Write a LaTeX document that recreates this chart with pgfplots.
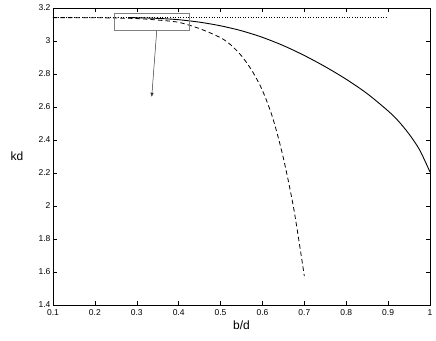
\documentclass[border=0pt]{standalone}
\usepackage{fontspec}
\setmainfont{Liberation Sans}
\usepackage{pgfplots}
\pgfplotsset{compat=1.18}
\usetikzlibrary{arrows.meta}

\begin{document}
\begin{tikzpicture}
\begin{axis}[
  scale only axis,
  width=377pt, height=297pt,
  xmin=0.1, xmax=1, ymin=1.4, ymax=3.2,
  xtick={0.1,0.2,...,1.0},
  ytick={1.4,1.6,...,3.2},
  xticklabels={0.1,0.2,0.3,0.4,0.5,0.6,0.7,0.8,0.9,1},
  yticklabels={1.4,1.6,1.8,2,2.2,2.4,2.6,2.8,3,3.2},
  tick align=inside,
  major tick length=4pt,
  tick style={black, line width=0.4pt},
  axis line style={line width=0.6pt},
  ticklabel style={font=\fontsize{8.5}{10}\selectfont},
  xticklabel style={yshift=-1pt},
  yticklabel style={xshift=1pt},
  every axis x label/.style={at={(rel axis cs:0.5,0)}, anchor=center, yshift=-20pt, font=\fontsize{12}{14}\selectfont},
  every axis y label/.style={at={(rel axis cs:0,0.5)}, anchor=center, xshift=-36pt, font=\fontsize{12}{14}\selectfont},
  xlabel={b/d}, ylabel={kd},
  clip=false,
]
% dotted reference level (pi)
\addplot[black, line width=0.5pt, dash pattern=on 0.8pt off 1.8pt] coordinates {
  (0.1,3.1416) (0.9,3.1416)
};
% dashed approximation
\addplot[black, line width=0.8pt, dash pattern=on 4.5pt off 3pt, smooth] coordinates {
  (0.1,3.1416) (0.15,3.1415) (0.2,3.141) (0.25,3.139) (0.3,3.136)
  (0.35,3.127) (0.4,3.113) (0.45,3.075) (0.5,3.02) (0.525,2.975)
  (0.55,2.91) (0.575,2.82) (0.6,2.70) (0.625,2.53) (0.65,2.29)
  (0.675,1.98) (0.7,1.575)
};
% solid curve
\addplot[black, line width=0.9pt, smooth] coordinates {
  (0.28,3.1416) (0.3,3.141) (0.35,3.137) (0.4,3.129) (0.45,3.114)
  (0.5,3.092) (0.55,3.062) (0.6,3.022) (0.65,2.972) (0.7,2.912)
  (0.75,2.844) (0.8,2.768) (0.85,2.681) (0.9,2.576) (0.925,2.5135)
  (0.95,2.436) (0.975,2.341) (1.0,2.206)
};
% zoom box and arrow
\draw[gray, line width=0.6pt] (axis cs:0.2463,3.067) rectangle (axis cs:0.4247,3.168);
\draw[black!80, line width=0.5pt, -{Triangle[length=4pt,width=3pt]}] (axis cs:0.3476,3.062) -- (axis cs:0.3357,2.662);
% fix the page to the reference's margins
\path (current axis.south west) ++(-53pt,-36pt) coordinate (bbA);
\path (current axis.north east) ++(6pt,8pt) coordinate (bbB);
\end{axis}
\useasboundingbox (bbA) rectangle (bbB);
\end{tikzpicture}
\end{document}
